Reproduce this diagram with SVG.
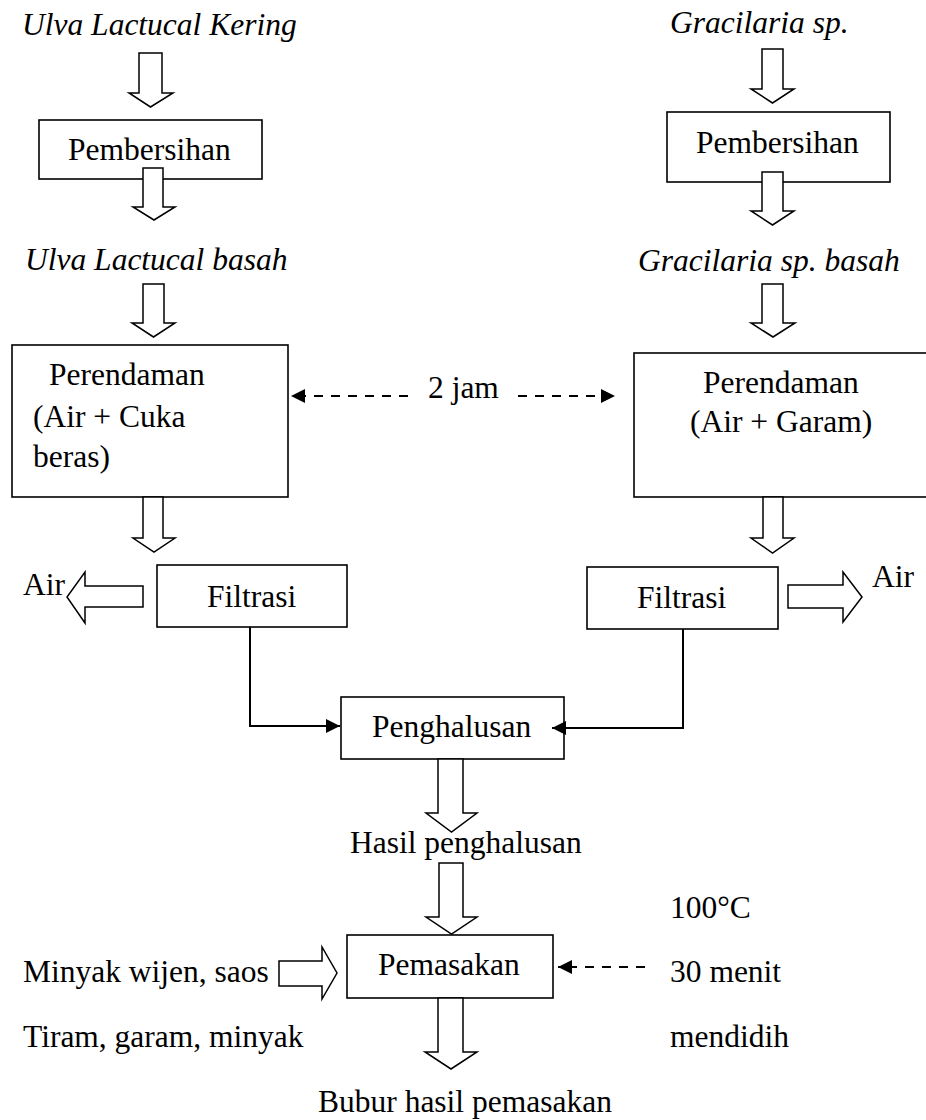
<svg xmlns="http://www.w3.org/2000/svg" width="926" height="1120" viewBox="0 0 926 1120">
<style>
text{font-family:"Liberation Serif","Times New Roman",serif;font-size:31.5px;fill:#000}
.it{font-style:italic}
.box{fill:#fff;stroke:#000;stroke-width:1.6}
.ha{fill:#fff;stroke:#000;stroke-width:1.5;stroke-linejoin:miter}
.ln{fill:none;stroke:#000;stroke-width:2}
.dash{fill:none;stroke:#000;stroke-width:2;stroke-dasharray:9 8}
</style>
<defs>
<marker id="ah" viewBox="0 0 14 14" refX="14" refY="7" markerWidth="14" markerHeight="14" markerUnits="userSpaceOnUse" orient="auto">
<path d="M0,0 L14,7 L0,14 z" fill="#000"/>
</marker>
</defs>
<rect width="926" height="1120" fill="#fff"/>

<g id="label-ulva-kering"><text class="it" x="22" y="35">Ulva Lactucal Kering</text></g>
<g id="label-gracilaria"><text class="it" x="670" y="33">Gracilaria sp.</text></g>

<g id="pembersihan-left"><rect class="box" x="39" y="120" width="223" height="59"/><text x="68" y="160">Pembersihan</text></g>
<g id="pembersihan-right"><rect class="box" x="667" y="112" width="223" height="70"/><text x="696" y="153">Pembersihan</text></g>

<g id="label-ulva-basah"><text class="it" x="25" y="270">Ulva Lactucal basah</text></g>
<g id="label-gracilaria-basah"><text class="it" x="638" y="271">Gracilaria sp. basah</text></g>

<g id="perendaman-left"><rect class="box" x="12" y="345" width="276" height="152"/>
<text x="49" y="385">Perendaman</text><text x="33" y="427">(Air + Cuka</text><text x="33" y="467">beras)</text></g>
<g id="perendaman-right"><rect class="box" x="634" y="353" width="300" height="144"/>
<text x="703" y="393">Perendaman</text><text x="690" y="432">(Air + Garam)</text></g>

<g id="label-2jam"><text x="428" y="398">2 jam</text></g>

<g id="filtrasi-left"><rect class="box" x="157" y="565" width="190" height="62"/><text x="207" y="607">Filtrasi</text></g>
<g id="filtrasi-right"><rect class="box" x="587" y="567" width="191" height="62"/><text x="637" y="608">Filtrasi</text></g>
<g id="label-air-left"><text x="23" y="595">Air</text></g>
<g id="label-air-right"><text x="872" y="587">Air</text></g>

<g id="penghalusan"><rect class="box" x="341" y="697" width="223" height="62"/><text x="372" y="737">Penghalusan</text></g>
<g id="label-hasil"><text x="350" y="853">Hasil penghalusan</text></g>

<g id="pemasakan"><rect class="box" x="347" y="935" width="206" height="63"/><text x="378" y="975">Pemasakan</text></g>
<g id="label-bahan"><text x="23" y="982">Minyak wijen, saos</text><text x="23" y="1047">Tiram, garam, minyak</text></g>
<g id="label-kondisi"><text x="670" y="918">100°C</text><text x="670" y="982">30 menit</text><text x="670" y="1047">mendidih</text></g>
<g id="label-bubur"><text x="318" y="1112">Bubur hasil pemasakan</text></g>

<g id="connectors">
<polygon class="ha" points="139,53 162,53 162,93 173,93 150.5,107 129,93 139,93"/>
<polygon class="ha" points="143,168 163,168 163,207 175,207 154,220 133,207 143,207"/>
<polygon class="ha" points="143,284 164,284 164,323 175,323 153.5,337 132,323 143,323"/>
<polygon class="ha" points="143,497 163,497 163,538 175,538 154,552 133,538 143,538"/>
<polygon class="ha" points="762,49 783,49 783,89 794,89 772.5,103 751,89 762,89"/>
<polygon class="ha" points="762,172 783,172 783,211 794,211 772.5,225 751,211 762,211"/>
<polygon class="ha" points="762,284 783,284 783,323 795,323 773,337 751,323 762,323"/>
<polygon class="ha" points="763,497 783,497 783,538 794,538 772.5,553 751,538 763,538"/>
<polygon class="ha" points="438,759 463,759 463,813 477,813 451.5,832 426,813 438,813"/>
<polygon class="ha" points="439,863 463,863 463,917 477,917 451.5,934 426,917 439,917"/>
<polygon class="ha" points="438,998 463,998 463,1052 477,1052 451,1069 425,1052 438,1052"/>
<polygon class="ha" points="143,586 143,607 85,607 85,623 67,597 85,572 85,586"/>
<polygon class="ha" points="788,585 843,585 843,572 862,597 843,622 843,608 788,608"/>
<polygon class="ha" points="279,961 322,961 322,947 337,973 322,999 322,986 279,986"/>
<polyline class="ln" points="250,627 250,726 340,726" marker-end="url(#ah)"/>
<polyline class="ln" points="683,629 683,728 552,728" marker-end="url(#ah)"/>
<line class="dash" x1="408" y1="396" x2="291" y2="396" marker-end="url(#ah)"/>
<line class="dash" x1="518" y1="396" x2="615" y2="396" marker-end="url(#ah)"/>
<line class="dash" x1="645" y1="967" x2="558" y2="967" marker-end="url(#ah)"/>
</g>
</svg>
